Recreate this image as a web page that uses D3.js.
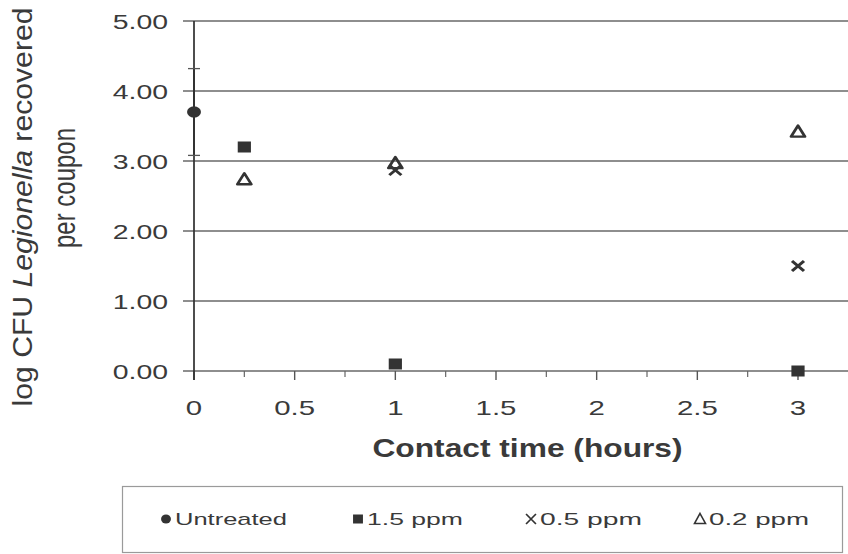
<!DOCTYPE html>
<html>
<head>
<meta charset="utf-8">
<script src="https://cdn.jsdelivr.net/npm/d3@7/dist/d3.min.js"></script>
<style>
  html, body { margin: 0; padding: 0; background: #ffffff; }
  svg { display: block; }
  text { font-family: "Liberation Sans", Arial, Helvetica, sans-serif; fill: #3a3a3a; }
</style>
</head>
<body>
<svg id="chart" width="848" height="554"></svg>
<script>
// ---- data ----
const seriesNames = ["Untreated", "1.5 ppm", "0.5 ppm", "0.2 ppm"];
const untreatedX = [0];
const untreatedY = [3.70];
const untreatedErr = [0.62];
const ppm15X = [0.25, 1, 3];
const ppm15Y = [3.20, 0.10, 0.00];
const ppm05X = [1, 3];
const ppm05Y = [2.87, 1.50];
const ppm02X = [0.25, 1, 3];
const ppm02Y = [2.74, 2.97, 3.42];
const xTickValues = [0, 0.5, 1, 1.5, 2, 2.5, 3];
const xTickLabels = ["0", "0.5", "1", "1.5", "2", "2.5", "3"];
const xMinorTicks = [0.25, 0.75, 1.25, 1.75, 2.25, 2.75];
const yTickValues = [0, 1, 2, 3, 4, 5];
const yTickLabels = ["0.00", "1.00", "2.00", "3.00", "4.00", "5.00"];
const xTitle = "Contact time (hours)";

const svg = d3.select("#chart");
const ink = "#333333";

const x = d3.scaleLinear().domain([0, 3]).range([194, 798]);
const y = d3.scaleLinear().domain([0, 5]).range([371, 21]);
const gridLeft = 183, gridRight = 848;

// gridlines (incl. the zero line acting as the x axis)
svg.append("g").selectAll("line").data(yTickValues).join("line")
  .attr("x1", gridLeft).attr("x2", gridRight)
  .attr("y1", d => y(d)).attr("y2", d => y(d))
  .attr("stroke", "#686868").attr("stroke-width", 1.4);

// x axis ticks (major and minor, pointing down)
svg.append("g").selectAll("line").data(xTickValues).join("line")
  .attr("x1", d => x(d)).attr("x2", d => x(d))
  .attr("y1", y(0)).attr("y2", y(0) + 9)
  .attr("stroke", "#555").attr("stroke-width", 1.4);
svg.append("g").selectAll("line").data(xMinorTicks).join("line")
  .attr("x1", d => x(d)).attr("x2", d => x(d))
  .attr("y1", y(0)).attr("y2", y(0) + 6)
  .attr("stroke", "#666").attr("stroke-width", 1.2);

// y axis line
svg.append("line")
  .attr("x1", x(0)).attr("x2", x(0))
  .attr("y1", y(5)).attr("y2", y(0) + 9)
  .attr("stroke", "#2e2e2e").attr("stroke-width", 1.7);

// y tick labels
svg.append("g").selectAll("text").data(yTickValues).join("text")
  .attr("transform", d => `translate(168,${y(d) + 7.5}) scale(1.42,1)`)
  .attr("text-anchor", "end")
  .attr("font-size", 20)
  .attr("fill", "#3c3c3c")
  .text((d, i) => yTickLabels[i]);

// x tick labels
svg.append("g").selectAll("text").data(xTickValues).join("text")
  .attr("transform", d => `translate(${x(d)},415) scale(1.4,1)`)
  .attr("text-anchor", "middle")
  .attr("font-size", 21)
  .attr("fill", "#3c3c3c")
  .text((d, i) => xTickLabels[i]);

// x title
svg.append("text")
  .attr("transform", "translate(527.5,457) scale(1.22,1)")
  .attr("text-anchor", "middle")
  .attr("font-size", 26)
  .attr("font-weight", "bold")
  .attr("fill", "#333")
  .text(xTitle);

// y title (two lines, rotated)
const yt1 = svg.append("text")
  .attr("transform", "translate(32,207) rotate(-90) scale(1,1.25)")
  .attr("text-anchor", "middle")
  .attr("font-size", 22)
  .attr("textLength", 399)
  .attr("lengthAdjust", "spacingAndGlyphs")
  .attr("fill", "#333");
yt1.append("tspan").text("log CFU ");
yt1.append("tspan").attr("font-style", "italic").text("Legionella");
yt1.append("tspan").text(" recovered");
svg.append("text")
  .attr("transform", "translate(75,188) rotate(-90) scale(1,1.45)")
  .attr("text-anchor", "middle")
  .attr("font-size", 22)
  .attr("textLength", 120)
  .attr("lengthAdjust", "spacingAndGlyphs")
  .attr("fill", "#333")
  .text("per coupon");

// markers
const sx = 1.2;
function drawSeries(xs, ys, type) {
  const g = svg.append("g");
  xs.forEach((xv, i) => {
    const t = `translate(${x(xv)},${y(ys[i])}) scale(${sx},1)`;
    if (type === "circle") {
      g.append("circle").attr("transform", t).attr("r", 5.8).attr("fill", ink);
    } else if (type === "square") {
      g.append("rect").attr("transform", t)
        .attr("x", -5.5).attr("y", -5.5).attr("width", 11).attr("height", 11)
        .attr("fill", ink);
    } else if (type === "cross") {
      g.append("path").attr("transform", t)
        .attr("d", "M-5,-5L5,5M-5,5L5,-5")
        .attr("stroke", ink).attr("stroke-width", 2.6).attr("fill", "none");
    } else if (type === "triangle") {
      g.append("path").attr("transform", t)
        .attr("d", "M0,-6L5.8,5L-5.8,5Z")
        .attr("stroke", ink).attr("stroke-width", 2.4).attr("fill", "none")
        .attr("stroke-linejoin", "round");
    }
  });
}

// error bar of the untreated point (lies along the y axis)
svg.append("g").selectAll("line").data(untreatedX).join("line")
  .attr("x1", d => x(d)).attr("x2", d => x(d))
  .attr("y1", (d, i) => y(untreatedY[i] + untreatedErr[i]))
  .attr("y2", (d, i) => y(untreatedY[i] - untreatedErr[i]))
  .attr("stroke", "#2e2e2e").attr("stroke-width", 1.7);
untreatedX.forEach((xv, i) => {
  [untreatedY[i] + untreatedErr[i], untreatedY[i] - untreatedErr[i]].forEach(v => {
    svg.append("line")
      .attr("x1", x(xv) - 6).attr("x2", x(xv) + 6)
      .attr("y1", y(v)).attr("y2", y(v))
      .attr("stroke", "#555").attr("stroke-width", 1.3);
  });
});

drawSeries(ppm02X, ppm02Y, "triangle");
drawSeries(ppm05X, ppm05Y, "cross");
drawSeries(ppm15X, ppm15Y, "square");
drawSeries(untreatedX, untreatedY, "circle");

// legend
svg.append("rect")
  .attr("x", 122.5).attr("y", 486.5).attr("width", 720).attr("height", 66)
  .attr("fill", "#fff").attr("stroke", "#9a9a9a").attr("stroke-width", 1.2);

const legendTypes = ["circle", "square", "cross", "triangle"];
const legendMarkX = [166, 358, 531, 700];
const legendTextLen = [112, 96, 102, 100];
const ly = 519;
legendTypes.forEach((tp, i) => {
  const t = `translate(${legendMarkX[i]},${ly}) scale(1.1,1)`;
  if (tp === "circle") {
    svg.append("circle").attr("transform", t).attr("r", 4.5).attr("fill", ink);
  } else if (tp === "square") {
    svg.append("rect").attr("transform", t).attr("x", -4.5).attr("y", -4.5)
      .attr("width", 9).attr("height", 9).attr("fill", ink);
  } else if (tp === "cross") {
    svg.append("path").attr("transform", t).attr("d", "M-4.5,-5L4.5,5M-4.5,5L4.5,-5")
      .attr("stroke", ink).attr("stroke-width", 1.5).attr("fill", "none");
  } else {
    svg.append("path").attr("transform", t).attr("d", "M0,-5.5L5,4.5L-5,4.5Z")
      .attr("stroke", ink).attr("stroke-width", 1.5).attr("fill", "none");
  }
  svg.append("text")
    .attr("x", legendMarkX[i] + 9).attr("y", ly + 6)
    .attr("font-size", 17)
    .attr("textLength", legendTextLen[i])
    .attr("lengthAdjust", "spacingAndGlyphs")
    .attr("fill", "#3a3a3a")
    .text(seriesNames[i]);
});
</script>
</body>
</html>
